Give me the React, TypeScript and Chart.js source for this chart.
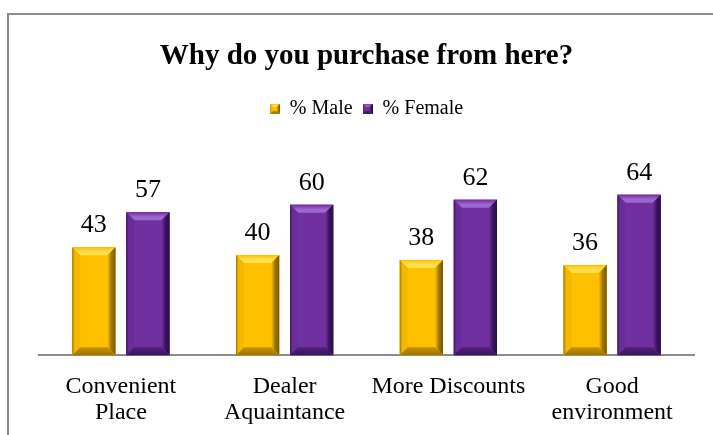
import React, { useEffect, useRef } from "react";
import { Chart, registerables } from "chart.js";

Chart.register(...registerables);

const categories: (string | string[])[] = [
  ["Convenient", "Place"],
  ["Dealer", "Aquaintance"],
  "More Discounts",
  ["Good", "environment"],
];
const maleValues = [43, 40, 38, 36];
const femaleValues = [57, 60, 62, 64];
const seriesNames = ["% Male", "% Female"];
const chartTitle = "Why do you purchase from here?";

const FONT = "'Times New Roman', 'Liberation Serif', serif";

type Palette = { base: string; top: string; left: string; right: string; bottom: string; edge: string };

const gold: Palette = {
  base: "#FFC000",
  top: "#FFE050",
  left: "#F5B800",
  right: "#9C7400",
  bottom: "#C99300",
  edge: "#7A5A00",
};
const purple: Palette = {
  base: "#7030A0",
  top: "#A066D0",
  left: "#6A2C99",
  right: "#3A1460",
  bottom: "#52207D",
  edge: "#2A0C48",
};

function drawBevel(ctx: CanvasRenderingContext2D, l: number, t: number, r: number, b: number, p: Palette, size: number) {
  const s = Math.min(size, (r - l) / 2, (b - t) / 2);
  ctx.save();
  ctx.fillStyle = p.base;
  ctx.fillRect(l, t, r - l, b - t);
  // top
  let g = ctx.createLinearGradient(0, t, 0, t + s);
  g.addColorStop(0, p.base);
  g.addColorStop(0.6, p.top);
  g.addColorStop(1, p.top);
  ctx.fillStyle = g;
  ctx.beginPath();
  ctx.moveTo(l, t);
  ctx.lineTo(r, t);
  ctx.lineTo(r - s, t + s);
  ctx.lineTo(l + s, t + s);
  ctx.closePath();
  ctx.fill();
  // left
  g = ctx.createLinearGradient(l, 0, l + s, 0);
  g.addColorStop(0, p.right);
  g.addColorStop(0.3, p.left);
  g.addColorStop(1, p.left);
  ctx.fillStyle = g;
  ctx.beginPath();
  ctx.moveTo(l, t);
  ctx.lineTo(l + s, t + s);
  ctx.lineTo(l + s, b - s);
  ctx.lineTo(l, b);
  ctx.closePath();
  ctx.fill();
  // right
  g = ctx.createLinearGradient(r, 0, r - s, 0);
  g.addColorStop(0, p.edge);
  g.addColorStop(0.5, p.right);
  g.addColorStop(1, p.base);
  ctx.fillStyle = g;
  ctx.beginPath();
  ctx.moveTo(r, t);
  ctx.lineTo(r, b);
  ctx.lineTo(r - s, b - s);
  ctx.lineTo(r - s, t + s);
  ctx.closePath();
  ctx.fill();
  // bottom
  g = ctx.createLinearGradient(0, b, 0, b - s);
  g.addColorStop(0, p.right);
  g.addColorStop(1, p.bottom);
  ctx.fillStyle = g;
  ctx.beginPath();
  ctx.moveTo(l, b);
  ctx.lineTo(r, b);
  ctx.lineTo(r - s, b - s);
  ctx.lineTo(l + s, b - s);
  ctx.closePath();
  ctx.fill();
  ctx.restore();
}

function makeLegendIcon(p: Palette): HTMLCanvasElement {
  const c = document.createElement("canvas");
  c.width = 10;
  c.height = 10;
  const ctx = c.getContext("2d")!;
  drawBevel(ctx, 0, 0, 10, 10, p, 3);
  return c;
}

const bevelPlugin = {
  id: "bevelBars",
  afterDatasetsDraw(chart: any) {
    const ctx: CanvasRenderingContext2D = chart.ctx;
    chart.data.datasets.forEach((ds: any, di: number) => {
      const meta = chart.getDatasetMeta(di);
      const pal: Palette = di === 0 ? gold : purple;
      meta.data.forEach((el: any) => {
        const { x, y, base, width } = el.getProps(["x", "y", "base", "width"], true);
        drawBevel(ctx, x - width / 2, y, x + width / 2, base, pal, 8);
      });
    });
  },
};

const labelPlugin = {
  id: "valueLabels",
  afterDatasetsDraw(chart: any) {
    const ctx: CanvasRenderingContext2D = chart.ctx;
    ctx.save();
    ctx.font = `26px ${FONT}`;
    ctx.fillStyle = "#000";
    ctx.textAlign = "center";
    ctx.textBaseline = "alphabetic";
    chart.data.datasets.forEach((ds: any, di: number) => {
      const meta = chart.getDatasetMeta(di);
      meta.data.forEach((el: any, i: number) => {
        ctx.fillText(String(ds.data[i]), el.x, el.y - 15);
      });
    });
    ctx.restore();
  },
};

export default function App() {
  const ref = useRef<HTMLCanvasElement | null>(null);
  useEffect(() => {
    if (!ref.current) return;
    const chart = new Chart(ref.current, {
      type: "bar",
      data: {
        labels: categories as any,
        datasets: [
          {
            label: seriesNames[0],
            data: maleValues,
            backgroundColor: gold.base,
            pointStyle: makeLegendIcon(gold) as any,
            categoryPercentage: 0.66,
            barPercentage: 0.8,
          },
          {
            label: seriesNames[1],
            data: femaleValues,
            backgroundColor: purple.base,
            pointStyle: makeLegendIcon(purple) as any,
            categoryPercentage: 0.66,
            barPercentage: 0.8,
          },
        ],
      },
      options: {
        responsive: false,
        animation: false,
        events: [],
        layout: { padding: { left: 39, right: 38, top: 0, bottom: 11 } },
        plugins: {
          title: {
            display: true,
            text: chartTitle,
            color: "#000",
            font: { family: FONT, size: 29, weight: "bold", lineHeight: 1.2 },
            padding: { top: 39, bottom: 15 },
          },
          legend: {
            position: "top",
            labels: {
              color: "#000",
              font: { family: FONT, size: 20 },
              usePointStyle: true,
              boxWidth: 10,
              boxHeight: 10,
              padding: 10,
            },
          },
          tooltip: { enabled: false },
        },
        scales: {
          x: {
            grid: { display: false },
            border: { display: true, color: "#8c8c8c", width: 2 },
            ticks: {
              color: "#000",
              font: { family: FONT, size: 24, lineHeight: 1.08 },
              padding: 11,
              maxRotation: 0,
              autoSkip: false,
            },
          },
          y: { display: false, min: 0, max: 90.3 },
        },
      },
      plugins: [bevelPlugin, labelPlugin],
    });
    return () => chart.destroy();
  }, []);

  return (
    <div
      style={{
        position: "absolute",
        left: 0,
        top: 0,
        width: 713,
        height: 435,
        overflow: "hidden",
        background: "#fff",
      }}
    >
      <div
        style={{
          position: "absolute",
          left: 7,
          top: 13,
          width: 800,
          height: 500,
          borderLeft: "2px solid #8c8c8c",
          borderTop: "2px solid #8c8c8c",
        }}
      />
      <canvas ref={ref} width={732} height={448} style={{ position: "absolute", left: 0, top: 0, width: 732, height: 448 }} />
    </div>
  );
}
